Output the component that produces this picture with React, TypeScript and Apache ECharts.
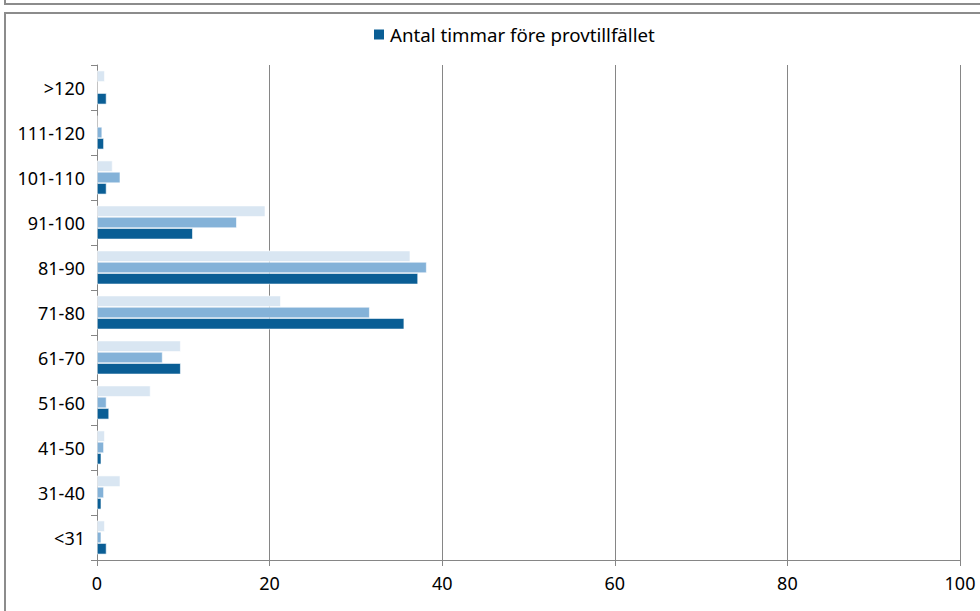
import React, { useEffect, useRef } from "react";
import * as echarts from "echarts";

const categories = ["<31", "31-40", "41-50", "51-60", "61-70", "71-80", "81-90", "91-100", "101-110", "111-120", ">120"];
const seriesDarkName = "Antal timmar före provtillfället";
const seriesDark = [1.1, 0.5, 0.5, 1.4, 9.7, 35.6, 37.2, 11.1, 1.1, 0.8, 1.1];
const seriesMedium = [0.5, 0.8, 0.8, 1.1, 7.6, 31.6, 38.2, 16.2, 2.7, 0.6, 0];
const seriesLight = [0.9, 2.7, 0.9, 6.2, 9.7, 21.3, 36.3, 19.5, 1.8, 0, 0.9];
const xTicks = [0, 20, 40, 60, 80, 100];

const FONT = "Noto Sans";

export default function App() {
  const ref = useRef<HTMLDivElement>(null);
  useEffect(() => {
    if (!ref.current) return;
    const chart = echarts.init(ref.current, undefined, { renderer: "svg" });
    const mkSeries = (name: string, data: number[], color: string) => ({
      type: "bar",
      name,
      data,
      barGap: "0%",
      barCategoryGap: "25%",
      itemStyle: { color, borderColor: "#ffffff", borderWidth: 0.6 },
    });
    chart.setOption({
      animation: false,
      backgroundColor: "#ffffff",
      textStyle: { fontFamily: FONT },
      legend: {
        data: [seriesDarkName],
        top: 20,
        left: 367,
        padding: 5,
        icon: "rect",
        itemWidth: 12,
        itemHeight: 12,
        textStyle: { fontFamily: FONT, fontSize: 18.7, color: "#000" },
      },
      grid: { left: 97, right: 20, top: 65, bottom: 51, containLabel: false },
      xAxis: {
        type: "value",
        min: xTicks[0],
        max: xTicks[xTicks.length - 1],
        interval: 20,
        axisLine: { show: true, lineStyle: { color: "#868686", width: 1 } },
        axisTick: { show: true, length: 6, lineStyle: { color: "#868686" } },
        axisLabel: { fontFamily: FONT, fontSize: 18, color: "#000", margin: 14 },
        splitLine: { show: true, lineStyle: { color: "#868686", width: 1 } },
      },
      yAxis: {
        type: "category",
        data: categories,
        axisLine: { show: true, lineStyle: { color: "#868686", width: 1 } },
        axisTick: { show: true, length: 6, lineStyle: { color: "#868686" } },
        axisLabel: { fontFamily: FONT, fontSize: 18, color: "#000", margin: 12 },
      },
      series: [
        mkSeries("Serie 3", seriesLight, "#d9e6f2"),
        mkSeries("Serie 2", seriesMedium, "#84b2d8"),
        mkSeries(seriesDarkName, seriesDark, "#0a5e95"),
      ],
      graphic: [
        {
          type: "rect",
          shape: { x: 5, y: -100, width: 1000, height: 104 },
          style: { fill: "none", stroke: "#8c8c8c", lineWidth: 2 },
          silent: true,
        },
        {
          type: "rect",
          shape: { x: 5, y: 13, width: 1000, height: 700 },
          style: { fill: "none", stroke: "#8c8c8c", lineWidth: 2 },
          silent: true,
        },
      ],
    });
    return () => chart.dispose();
  }, []);
  return <div ref={ref} style={{ position: "absolute", left: 0, top: 0, width: 980, height: 611 }} />;
}
